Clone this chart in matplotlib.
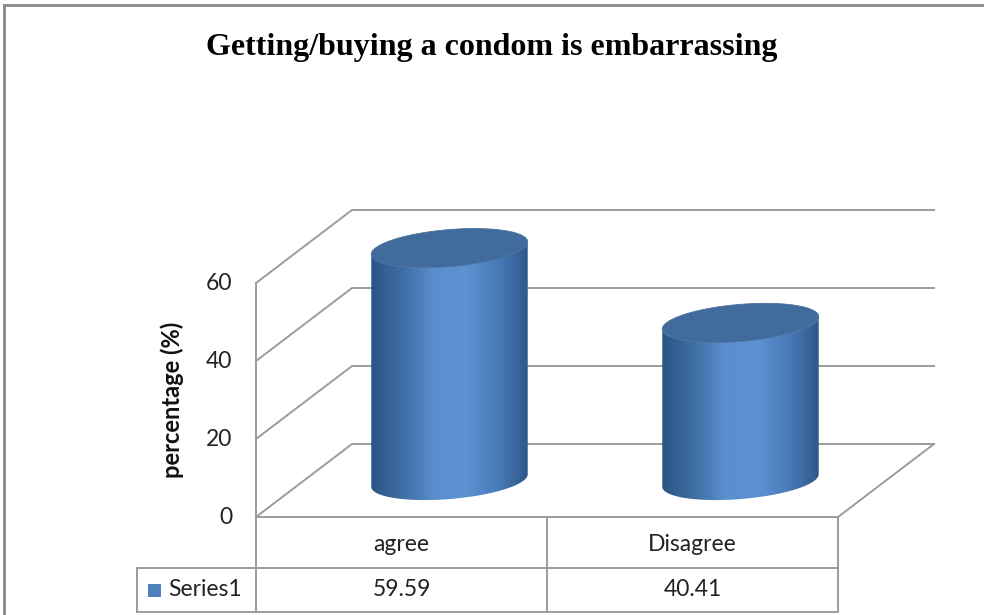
import matplotlib.pyplot as plt
import numpy as np
from matplotlib.patches import Polygon, Rectangle
from matplotlib.colors import LinearSegmentedColormap
from matplotlib.lines import Line2D

# Datos de la gráfica
categorias = ['agree', 'Disagree']
valores = [59.59, 40.41]
etiquetas_valores = ['59.59', '40.41']
serie = 'Series1'
ticks_y = [0, 20, 40, 60]
titulo = 'Getting/buying a condom is embarrassing'
etiqueta_y = 'percentage (%)'

W, H = 984, 615
fig = plt.figure(figsize=(W / 100, H / 100), dpi=100)
ax = fig.add_axes([0, 0, 1, 1])
ax.axis('off')

# Escalas: x en unidades de categoría, y en valor (plano frontal)
px_cat = 291.0      # píxeles por categoría
px_val = 3.9        # píxeles por unidad de porcentaje
x0_px, y0_px = 256, 615 - 517   # esquina frontal izquierda del suelo
xmin = -0.5 - x0_px / px_cat
ymin = -y0_px / px_val
ax.set_xlim(xmin, xmin + W / px_cat)
ax.set_ylim(ymin, ymin + H / px_val)

# Desplazamiento de profundidad (oblicuo) en unidades de datos
DX = 96 / px_cat
DY = 73 / px_val
gris = '#9c9c9c'
lw = 1.4
fuente = 'Lato'
tam = 16.5

# Paredes: líneas de la pared izquierda y del fondo
for v in ticks_y:
    ax.plot([-0.5, -0.5 + DX, 1.5 + DX], [v, v + DY, v + DY], color=gris, lw=lw, zorder=1)
ax.plot([-0.5, -0.5], [0, ticks_y[-1]], color=gris, lw=lw, zorder=1)
ax.plot([1.5, 1.5 + DX], [0, DY], color=gris, lw=lw, zorder=1)

# Etiquetas del eje y
for v in ticks_y:
    ax.text(-0.5 - 24 / px_cat, v, str(v), ha='right', va='center',
            fontsize=tam, family=fuente, color='#222222')
ax.text(-0.5 - 84 / px_cat, 30, etiqueta_y, rotation=90, ha='center', va='center',
        fontsize=17, family=fuente, fontweight='bold', color='#111111')

# Cilindros
a_px, b_px, ang = 78.5, 18.5, np.deg2rad(4.8)
cmap = LinearSegmentedColormap.from_list('cil', ['#2b5585', '#3f6da3', '#5a8ece',
                                                  '#5d92d3', '#4b7cba', '#30598a'])


def elipse(cx, cy, t):
    ex = a_px * np.cos(t)
    ey = b_px * np.sin(t)
    rx = ex * np.cos(ang) - ey * np.sin(ang)
    ry = ex * np.sin(ang) + ey * np.cos(ang)
    return cx + rx / px_cat, cy + ry / px_val


for i, v in enumerate(valores):
    cx = i + DX / 2
    cy0 = DY / 2
    cy1 = v + DY / 2
    t_bot = np.linspace(np.pi, 2 * np.pi, 80)
    t_top = np.linspace(2 * np.pi, np.pi, 80)
    bx, by = elipse(cx, cy0, t_bot)
    tx, ty = elipse(cx, cy1, t_top)
    cuerpo = np.column_stack([np.r_[bx, tx], np.r_[by, ty]])
    poly = Polygon(cuerpo, closed=True, facecolor='none', edgecolor='none', zorder=3)
    ax.add_patch(poly)
    grad = np.linspace(0, 1, 256).reshape(1, -1)
    ext = [cx - a_px / px_cat, cx + a_px / px_cat, cy0 - 30 / px_val, cy1 + 30 / px_val]
    im = ax.imshow(grad, cmap=cmap, extent=ext, aspect='auto', zorder=3,
                   interpolation='bilinear')
    im.set_clip_path(poly)
    # Tapa superior
    tt = np.linspace(0, 2 * np.pi, 160)
    ex, ey = elipse(cx, cy1, tt)
    ax.add_patch(Polygon(np.column_stack([ex, ey]), closed=True,
                         facecolor='#406b9c', edgecolor='#46729f', lw=0.6, zorder=4))

# Tabla de datos
fila1 = -51 / px_val
fila2 = -95 / px_val
x_izq = -0.5 - 119 / px_cat
ax.plot([-0.5, 1.5], [0, 0], color=gris, lw=lw, zorder=5)
ax.plot([x_izq, 1.5], [fila1, fila1], color=gris, lw=lw, zorder=5)
ax.plot([x_izq, 1.5], [fila2, fila2], color=gris, lw=lw, zorder=5)
ax.plot([x_izq, x_izq], [fila1, fila2], color=gris, lw=lw, zorder=5)
for xv in [-0.5, 0.5, 1.5]:
    ax.plot([xv, xv], [0, fila2], color=gris, lw=lw, zorder=5)

for i, (c, e) in enumerate(zip(categorias, etiquetas_valores)):
    ax.text(i, fila1 / 2 - 2 / px_val, c, ha='center', va='center', fontsize=tam,
            family=fuente, color='#222222')
    ax.text(i, (fila1 + fila2) / 2, e, ha='center', va='center', fontsize=tam,
            family=fuente, color='#222222')

ax.add_patch(Rectangle((x_izq + 11 / px_cat, (fila1 + fila2) / 2 - 6.5 / px_val),
                       13 / px_cat, 13 / px_val, facecolor='#4f81bd',
                       edgecolor='none', zorder=6))
ax.text(x_izq + 31 / px_cat, (fila1 + fila2) / 2, serie, ha='left', va='center',
        fontsize=tam, family=fuente, color='#222222')

# Título
fig.text(0.5, 1 - 47 / H, titulo, ha='center', va='center', fontsize=23,
         family='Liberation Serif', fontweight='bold')

# Marco de la figura
fig.add_artist(Line2D([4 / W, 1], [1 - 5 / H, 1 - 5 / H], color='#8a8a8a', lw=2))
fig.add_artist(Line2D([4 / W, 4 / W], [0, 1 - 5 / H], color='#8a8a8a', lw=2))

fig.savefig('out.png', dpi=100)
